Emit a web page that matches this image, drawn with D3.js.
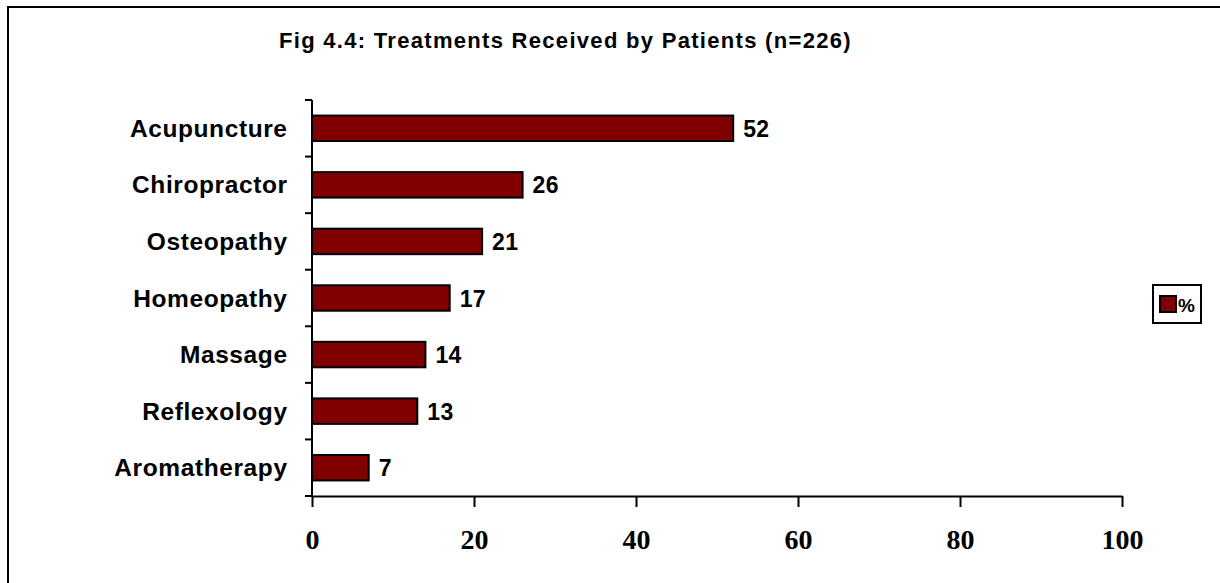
<!DOCTYPE html>
<html>
<head>
<meta charset="utf-8">
<script src="https://cdn.jsdelivr.net/npm/d3@7"></script>
<style>
  body { margin: 0; background: #fff; }
  svg { display: block; }
</style>
</head>
<body>
<svg id="chart" width="1220" height="583"></svg>
<script>
// data
const categories = ["Acupuncture", "Chiropractor", "Osteopathy", "Homeopathy", "Massage", "Reflexology", "Aromatherapy"];
const values = [52, 26, 21, 17, 14, 13, 7];
const xTicks = [0, 20, 40, 60, 80, 100];
const legendLabel = "%";
const titleText = "Fig 4.4: Treatments Received by Patients (n=226)";

const svg = d3.select("#chart");
const barColor = "#800000";
const sans = "'Liberation Sans', Arial, sans-serif";
const serif = "'Liberation Serif', 'Times New Roman', serif";

const plot = { left: 312, right: 1122, top: 100, bottom: 496 };

// outer frame (only left/top edges fall inside the picture)
svg.append("rect")
  .attr("x", 8).attr("y", 7)
  .attr("width", 1240).attr("height", 600)
  .attr("fill", "none").attr("stroke", "#000").attr("stroke-width", 2);

svg.append("text")
  .attr("x", 279).attr("y", 48)
  .attr("font-family", sans).attr("font-weight", "bold")
  .attr("font-size", 22).attr("letter-spacing", 1.3)
  .text(titleText);

const x = d3.scaleLinear().domain([0, 100]).range([plot.left, plot.right]);
const y = d3.scaleBand().domain(categories).range([plot.top, plot.bottom])
  .paddingInner(0.55).paddingOuter(0.275);

const data = categories.map((c, i) => ({ cat: c, v: values[i] }));

// bars
svg.append("g").selectAll("rect").data(data).join("rect")
  .attr("x", x(0))
  .attr("y", d => y(d.cat))
  .attr("width", d => x(d.v) - x(0))
  .attr("height", y.bandwidth())
  .attr("fill", barColor)
  .attr("stroke", "#000")
  .attr("stroke-width", 2);

// value labels
svg.append("g").selectAll("text").data(data).join("text")
  .attr("x", d => x(d.v) + 10)
  .attr("y", d => y(d.cat) + y.bandwidth() / 2 + 8.5)
  .attr("font-family", sans).attr("font-weight", "bold")
  .attr("font-size", 23).attr("letter-spacing", 0.3)
  .text(d => d.v);

// x axis
const gX = svg.append("g")
  .attr("transform", `translate(0, ${plot.bottom})`)
  .call(d3.axisBottom(x).tickValues(xTicks).tickSize(11).tickSizeOuter(0));
gX.select(".domain").attr("stroke-width", 2);
gX.selectAll(".tick line").attr("stroke-width", 2);
gX.selectAll(".tick text")
  .attr("y", 53).attr("dy", 0)
  .attr("font-family", serif).attr("font-weight", "bold")
  .attr("font-size", 28).attr("fill", "#000");

// y axis: labels from band scale, tick marks on band boundaries
const gY = svg.append("g")
  .attr("transform", `translate(${plot.left}, 0)`)
  .call(d3.axisLeft(y).tickSize(0));
gY.select(".domain").attr("stroke-width", 2).attr("d", `M0,${plot.top}V${plot.bottom}`);
gY.selectAll(".tick text")
  .attr("dy", 0).attr("y", 8.5)
  .attr("font-family", sans).attr("font-weight", "bold")
  .attr("font-size", 24.5).attr("letter-spacing", 0.6)
  .attr("x", -24.4).attr("fill", "#000");

const edges = d3.range(categories.length + 1).map(i => y.range()[0] + i * y.step());
gY.selectAll("line.edge").data(edges).join("line")
  .attr("class", "edge")
  .attr("x1", -7).attr("x2", 0)
  .attr("y1", d => d).attr("y2", d => d)
  .attr("stroke", "#000").attr("stroke-width", 2);

// legend
const lg = svg.append("g").attr("transform", "translate(1153, 285)");
lg.append("rect").attr("width", 48).attr("height", 38)
  .attr("fill", "#fff").attr("stroke", "#000").attr("stroke-width", 2);
lg.append("rect").attr("x", 7).attr("y", 11).attr("width", 16).attr("height", 16)
  .attr("fill", barColor).attr("stroke", "#000").attr("stroke-width", 2);
lg.append("text").attr("x", 25).attr("y", 27)
  .attr("font-family", sans).attr("font-weight", "bold").attr("font-size", 19)
  .text(legendLabel);
</script>
</body>
</html>
